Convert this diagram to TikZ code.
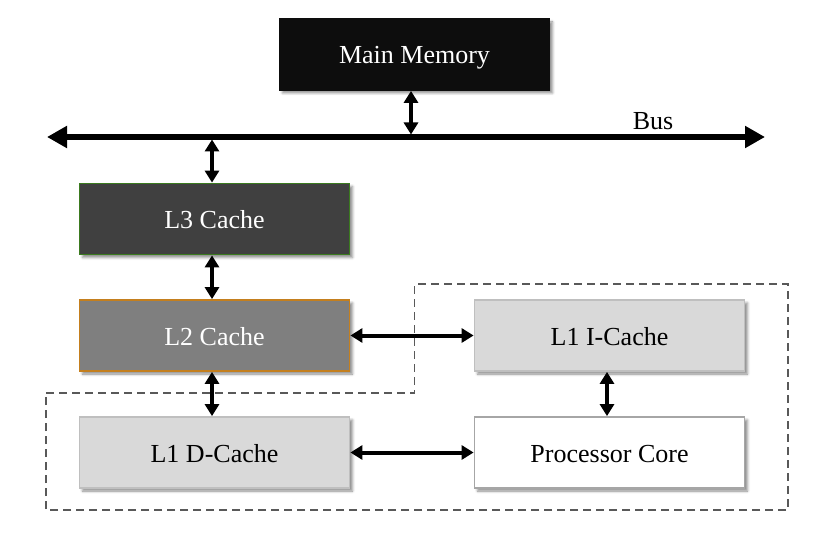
\documentclass[tikz,border=0pt]{standalone}
\usepackage{fontspec}
\setmainfont{Liberation Serif}
\usetikzlibrary{arrows.meta,shadows.blur}

\definecolor{memfill}{HTML}{0D0D0D}
\definecolor{lthreefill}{HTML}{404040}
\definecolor{lthreeborder}{HTML}{3B7A1F}
\definecolor{ltwofill}{HTML}{7F7F7F}
\definecolor{ltwoborder}{HTML}{C47F1E}
\definecolor{lonefill}{HTML}{D9D9D9}
\definecolor{loneborder}{HTML}{BFBFBF}
\definecolor{coreborder}{HTML}{A6A6A6}
\definecolor{groupline}{HTML}{595959}

\begin{document}
\begin{tikzpicture}[x=1pt,y=-1pt,
    box/.style={rectangle, draw, line width=1.8pt, minimum width=270pt, minimum height=71pt, inner sep=0pt,
                text height=19pt, text depth=0pt, font=\fontsize{26}{30}\selectfont,
                blur shadow={shadow xshift=3pt, shadow yshift=-3pt, shadow blur radius=2.5pt, shadow opacity=45}},
    link/.style={{Triangle[length=12pt,width=14pt]}-{Triangle[length=12pt,width=14pt]}, line width=4pt},
    bus/.style={{Triangle[length=20pt,width=21pt]}-{Triangle[length=20pt,width=21pt]}, line width=5.5pt},
    group/.style={draw=groupline, line width=1.5pt, dash pattern=on 8pt off 5pt}]
    \useasboundingbox (0,0) rectangle (819,540);

    % core group
    \draw[group] (46,393) -- (414.5,393) -- (414.5,284) -- (788,284) -- (788,510) -- (46,510) -- cycle;

    \node[box, fill=memfill, draw=memfill, text=white] (mem) at (414.5,54.5) {Main Memory};
    \node[box, fill=lthreefill, draw=lthreeborder, text=white] (lthree) at (214.5,219) {L3 Cache};
    \node[box, fill=ltwofill, draw=ltwoborder, text=white] (ltwo) at (214.5,335.5) {L2 Cache};
    \node[box, fill=lonefill, draw=loneborder] (ldata) at (214.5,452.5) {L1 D-Cache};
    \node[box, fill=lonefill, draw=loneborder] (linstr) at (609.5,335.5) {L1 I-Cache};
    \node[box, fill=white, draw=coreborder] (core) at (609.5,452.5) {Processor Core};

    % bus
    \coordinate (busL) at (47,137);
    \coordinate (busR) at (765,137);
    \draw[bus] (busL) -- (busR);
    \node[font=\fontsize{26}{30}\selectfont] (buslabel) at (653,121) {Bus};

    \coordinate (memtap) at (411,134.5);
    \coordinate (lthreetap) at (212,139.5);

    \draw[link] (mem.south -| memtap) -- (memtap); % memoria - bus
    \draw[link] (lthreetap) -- (lthree.north -| lthreetap); % bus - L3
    \draw[link] (lthree.south -| lthreetap) -- (ltwo.north -| lthreetap); % L3 - L2
    \draw[link] (ltwo.south -| lthreetap) -- (ldata.north -| lthreetap); % L2 - L1D
    \draw[link] (ltwo.east) -- (linstr.west); % L2 - L1I
    \draw[link] (ldata.east) -- (core.west); % L1D - core
    \draw[link] ([xshift=-2.5pt]linstr.south) -- ([xshift=-2.5pt]core.north); % L1I - core
\end{tikzpicture}
\end{document}
